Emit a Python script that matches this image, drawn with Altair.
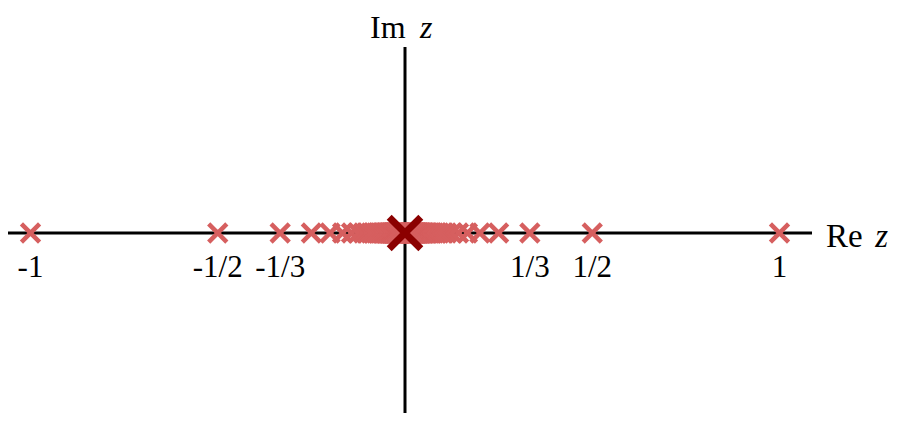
import altair as alt
import pandas as pd

# ---- data ----
DENOMS = [1, 2, 3, 4, 5, 6, 7, 8, 9, 10, 11, 12, 13, 14, 15, 16, 17, 18, 19, 20,
          21, 22, 23, 24, 25, 26, 27, 28, 29, 30, 31, 32, 33, 34, 35, 36, 37, 38, 39, 40,
          42, 45, 48, 52, 56, 60, 70, 80, 100]
POLES_POS = [1.0 / d for d in DENOMS]
POLES_NEG = [-1.0 / d for d in DENOMS]
TICK_VALUES = [-1, -1/2, -1/3, 1/3, 1/2, 1]
TICK_LABELS = ["-1", "-1/2", "-1/3", "1/3", "1/2", "1"]
ORIGIN = [0.0]

# ---- scales ----
XDOM = [-1.0601, 1.3004]
YDOM = [-0.4806, 0.6008]
xs = alt.Scale(domain=XDOM, nice=False, zero=False)
ys = alt.Scale(domain=YDOM, nice=False, zero=False)

FONT = "Liberation Serif"

poles = pd.DataFrame({"x": POLES_NEG + POLES_POS, "y": [0.0] * (2 * len(DENOMS))})
ticks = pd.DataFrame({"x": TICK_VALUES, "y": [0.0] * len(TICK_VALUES), "t": TICK_LABELS})
origin = pd.DataFrame({"x": ORIGIN, "y": [0.0]})

hline = pd.DataFrame({"x": [XDOM[0]], "x2": [1.0868], "y": [0.0]})
vline = pd.DataFrame({"x": [0.0], "y": [YDOM[0]], "y2": [0.4967]})

X_PATH = "M -1 -1 L 1 1 M -1 1 L 1 -1"

base_x = lambda f="x": alt.X(f"{f}:Q", scale=xs, axis=None)
base_y = lambda f="y": alt.Y(f"{f}:Q", scale=ys, axis=None)

h = alt.Chart(hline).mark_rule(color="black", strokeWidth=3).encode(
    x=base_x(), x2="x2:Q", y=base_y())
v = alt.Chart(vline).mark_rule(color="black", strokeWidth=3).encode(
    x=base_x(), y=base_y(), y2="y2:Q")

pts = alt.Chart(poles).mark_point(
    shape=X_PATH, filled=False, color="#d65f5f", strokeWidth=4.5, size=330, opacity=1
).encode(x=base_x(), y=base_y())

org = alt.Chart(origin).mark_point(
    shape=X_PATH, filled=False, color="#8b0000", strokeWidth=7, size=1000, opacity=1
).encode(x=base_x(), y=base_y())

tlab = alt.Chart(ticks).mark_text(
    font=FONT, fontSize=31, color="black", align="center", baseline="alphabetic", dy=44
).encode(x=base_x(), y=base_y(), text="t:N")

re_df = pd.DataFrame({"x": [1.1242], "y": [0.0], "t": ["Re"]})
rez_df = pd.DataFrame({"x": [1.2555], "y": [0.0], "t": ["z"]})
im_df = pd.DataFrame({"x": [-0.0935], "y": [0.5207], "t": ["Im"]})
imz_df = pd.DataFrame({"x": [0.0400], "y": [0.5207], "t": ["z"]})

def title_text(df, italic=False, dy=0, size=33):
    kw = dict(font=FONT, fontSize=size, color="black", align="left", baseline="alphabetic", dy=dy)
    if italic:
        kw["fontStyle"] = "italic"
    return alt.Chart(df).mark_text(**kw).encode(x=base_x(), y=base_y(), text="t:N")

re_t = title_text(re_df, dy=14)
rez_t = title_text(rez_df, italic=True, dy=14)
im_t = title_text(im_df, size=32)
imz_t = title_text(imz_df, italic=True, size=32)

chart = alt.layer(h, v, pts, org, tlab, re_t, rez_t, im_t, imz_t).properties(
    width=884, height=405,
    autosize=alt.AutoSizeParams(type="none"),
    padding=0,
).configure_view(stroke=None)

chart.save("out.html", embed_options={"renderer": "svg", "actions": False})
